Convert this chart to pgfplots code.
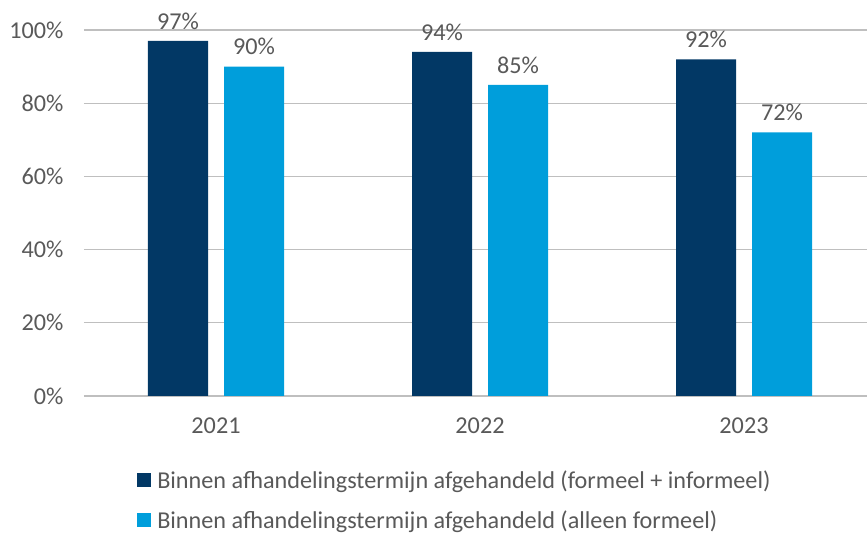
\documentclass[border=0pt]{standalone}
\usepackage{fontspec}
\setmainfont{Carlito}
\usepackage{pgfplots}
\pgfplotsset{compat=1.18}
\usetikzlibrary{calc}
\definecolor{navy}{RGB}{2,56,101}
\definecolor{lblue}{RGB}{0,158,219}
\definecolor{txt}{RGB}{89,89,89}
\definecolor{grid}{RGB}{217,217,217}
\newcommand{\lbl}{\fontsize{24.2}{29}\selectfont}
\begin{document}
\begin{tikzpicture}
\begin{axis}[
  name=ax,
  scale only axis,
  width=792pt, height=366pt,
  ybar, bar width=60pt,
  ymin=0, ymax=100,
  xmin=-0.5, xmax=2.5,
  xtick={0,1,2}, xticklabels={2021,2022,2023},
  ytick={0,20,40,60,80,100},
  yticklabel={\pgfmathprintnumber{\tick}\%},
  /pgf/number format/assume math mode=true,
  tick label style={font=\lbl, text=txt},
  xmajorgrids=false, ymajorgrids, grid style={grid, line width=1.3pt},
  axis line style={draw=none},
  major tick length=0pt, tick style={draw=none},
  xticklabel style={yshift=-18pt},
  yticklabel style={xshift=-17pt},
  nodes near coords={\pgfmathprintnumber{\pgfplotspointmeta}\%},
  nodes near coords style={font=\lbl, text=txt, yshift=8pt},
  legend style={at={(rel axis cs:0.067,-0.198)}, anchor=north west,
    draw=none, inner sep=0pt, row sep=17pt,
    font=\lbl, text=txt,
    cells={anchor=west}},
  legend image code/.code={\fill[#1] (0pt,-7pt) rectangle (14pt,7pt); \path (18pt,0pt);},
]
\addplot[fill=navy, draw=none, bar shift=-38pt] coordinates {(0,97) (1,94) (2,92)};
\addplot[fill=lblue, draw=none, bar shift=38pt] coordinates {(0,90) (1,85) (2,72)};
\legend{Binnen afhandelingstermijn afgehandeld (formeel + informeel),
        Binnen afhandelingstermijn afgehandeld (alleen formeel)}
\end{axis}
\pgfresetboundingbox
\path ($(ax.south west)+(-84pt,-141pt)$) rectangle ($(ax.north east)+(-9pt,30pt)$);
\end{tikzpicture}
\end{document}
